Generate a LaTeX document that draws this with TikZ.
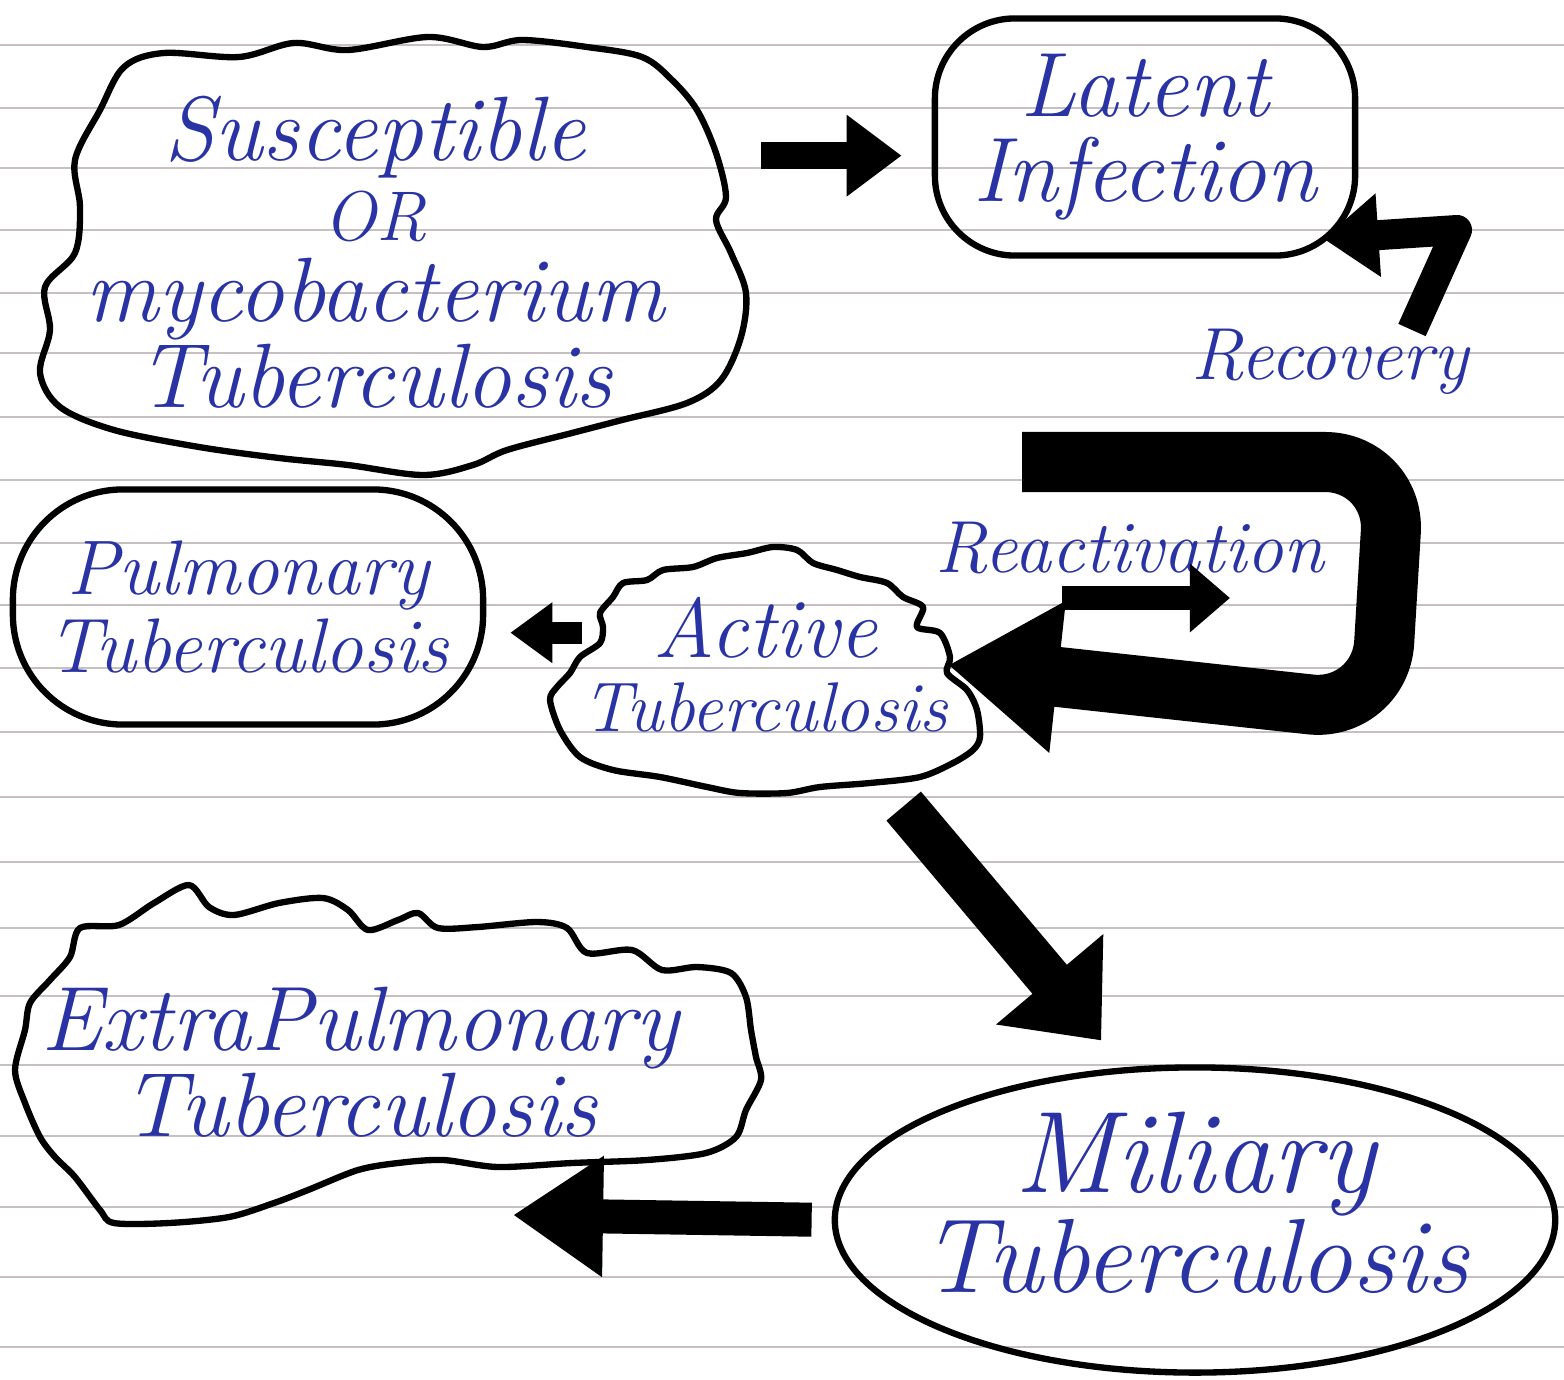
\documentclass[tikz,border=0pt]{standalone}
\usepackage{xcolor}
\usetikzlibrary{positioning, arrows.meta, shapes.geometric}
\definecolor{ink_blue}{HTML}{2A33A4}
\definecolor{paper_line}{HTML}{C6C0C2}

\begin{document}
\begin{tikzpicture}[
    % --- Global Settings ---
    % Work on the pixel grid of the sheet (y grows downwards)
    x=0.01cm, y=-0.01cm,
    % Handwritten look for every label
    every node/.style={text=ink_blue, align=center, inner sep=0pt}
  ]

  % --- Style Definitions ---
  \tikzset{
    % Pen lettering: font size and line distance
    hand/.style 2 args={
      font=\itshape\fontsize{#1}{#2}\selectfont
    },
    % Style for the hand-drawn wavy outlines
    blob/.style={
      draw=black,
      line width=1.8pt,
      line join=round
    },
    % Style for the smooth boxes (outline drawn by the node itself)
    block/.style={
      draw=black,
      line width=1.8pt,
      rounded corners=#1
    },
    % Style for the oval box
    oval/.style={
      ellipse,
      draw=black,
      line width=1.8pt,
      inner sep=-0.45cm
    },
    % Style for the felt-pen arrows (shaft width, head length, head width)
    arrow/.style n args={3}{
      draw=black,
      line width=#1,
      line join=round,
      -{Triangle[length=#2, width=#3]}
    },
    % Style for the ruled lines of the paper
    ruling/.style={
      draw=paper_line,
      line width=0.6pt
    }
  }

  \useasboundingbox (0,0) rectangle (1564,1379);

  % --- Paper ---
  \foreach \y in {45,108,168,230,293,353,417,480,543,605,668,732,797,862,928,996,1065,1136,1207,1277,1347}
    \draw[ruling] (0,\y) -- (1564,\y);

  % --- Node Placement ---
  % Susceptible host
  \node[hand={26}{23}, minimum width=7.7cm, minimum height=4.3cm] (susc) at (375,252)
    {Susceptible\\{\fontsize{20}{20}\selectfont OR}\\mycobacterium\\Tuberculosis};

  % Latent infection
  \node[block=0.8cm, hand={26}{24}, minimum width=4.2cm, minimum height=2.37cm] (latent) at (1145,137)
    {Latent\\Infection};

  % Pulmonary tuberculosis
  \node[block=1.1cm, hand={22}{22}, minimum width=4.7cm, minimum height=2.35cm] (pulmonary) at (248,607)
    {Pulmonary\\Tuberculosis};

  % Active tuberculosis
  \node[hand={20}{21}, minimum width=3.6cm, minimum height=2.5cm] (active) at (765,665)
    {{\fontsize{24}{21}\selectfont Active}\\Tuberculosis};

  % Extrapulmonary tuberculosis
  \node[hand={26}{22}, minimum width=7.4cm, minimum height=3.4cm] (extrap) at (360,1062)
    {ExtraPulmonary\\Tuberculosis};

  % Miliary tuberculosis
  \node[oval, hand={30}{23}, text depth=0.35cm, minimum width=7.2cm, minimum height=3.05cm] (miliary) at (1195,1220)
    {{\fontsize{33}{23}\selectfont Miliary}\\Tuberculosis};

  % Arrow labels
  \node[hand={21}{21}] (recovery) at (1330,362) {Recovery};
  \node[hand={21}{21}] (reactivation) at (1130,548) {Reactivation};

  % Free ends of the arrows
  \coordinate (ustart) at (1022,462);
  \coordinate (reacfrom) at (1062,598);
  \coordinate (reacto) at (1230,598);
  \coordinate (recfrom) at (1412,330);
  \coordinate (extin) at (513,1215);

  % --- Wavy Outlines ---
  \draw[blob] plot[smooth cycle, tension=0.55] coordinates {
    (124,67) (164,53) (239,57) (294,43) (348,50) (428,37) (483,47) (522,40)
    (587,47) (642,57) (672,80) (697,110) (716,153) (726,197) (716,220) (731,253)
    (746,293) (741,337) (721,380) (687,403) (622,420) (572,433) (507,450) (473,465)
    (423,475) (348,465) (279,458) (199,447) (114,430) (60,407) (40,373) (50,330)
    (45,287) (75,253) (80,207) (75,160) (100,110)};
  \draw[blob] plot[smooth cycle, tension=0.5] coordinates {
    (613,597) (623,583) (647,580) (663,570) (693,567) (717,558) (747,553) (773,547)
    (797,550) (813,563) (837,570) (860,577) (887,583) (903,597) (923,607) (917,627)
    (940,633) (950,657) (947,673) (967,690) (977,710) (980,737) (973,750) (953,763)
    (920,777) (870,783) (820,787) (787,793) (740,793) (707,787) (660,777) (613,770)
    (580,757) (560,730) (550,700) (557,687) (570,673) (580,657) (600,643) (603,627)
    (600,613)};
  \draw[blob] plot[smooth cycle, tension=0.5] coordinates {
    (80,928) (119,925) (154,903) (189,885) (209,907) (234,915) (279,903) (323,898)
    (348,910) (368,930) (398,920) (418,913) (438,928) (478,927) (537,922) (567,928)
    (587,953) (632,950) (662,970) (697,967) (731,973) (746,997) (751,1030) (756,1057)
    (761,1080) (746,1110) (736,1137) (706,1153) (647,1160) (572,1163) (498,1167) (443,1160)
    (398,1163) (358,1170) (308,1190) (274,1203) (229,1217) (169,1223) (114,1223) (100,1210)
    (75,1177) (55,1157) (40,1137) (25,1103) (15,1070) (25,1030) (30,1003) (50,980)
    (70,957)};

  % --- Path and Arrow Drawing ---
  % Infection
  \draw[arrow={0.27cm}{0.55cm}{0.78cm}, shorten >=0.3cm] (susc.east |- latent.185) -- (latent.185);

  % Recovery back to latent infection (tip reaches into the rounded corner)
  \draw[arrow={0.3cm}{0.55cm}{0.8cm}, shorten >=-0.35cm] (recfrom) -- (1457,230) -- (latent.-25);

  % Reactivation loop into active disease
  \draw[arrow={0.6cm}{1.1cm}{1.45cm}, rounded corners=0.7cm]
    (ustart) -- (1395,462) -- (1380,712) -- (active.east);
  \draw[arrow={0.24cm}{0.4cm}{0.66cm}] (reacfrom) -- (reacto);

  % Active disease to its forms
  \draw[arrow={0.22cm}{0.42cm}{0.58cm}, shorten >=0.24cm] (active.170) -- (active.170 -| pulmonary.east);
  \draw[arrow={0.45cm}{0.8cm}{1.35cm}, shorten <=0.2cm, shorten >=0.35cm] (active.-45) -- (miliary.115);
  \draw[arrow={0.34cm}{0.9cm}{1.15cm}, shorten <=0.2cm] (miliary.west) -- (extin);

\end{tikzpicture}
\end{document}
